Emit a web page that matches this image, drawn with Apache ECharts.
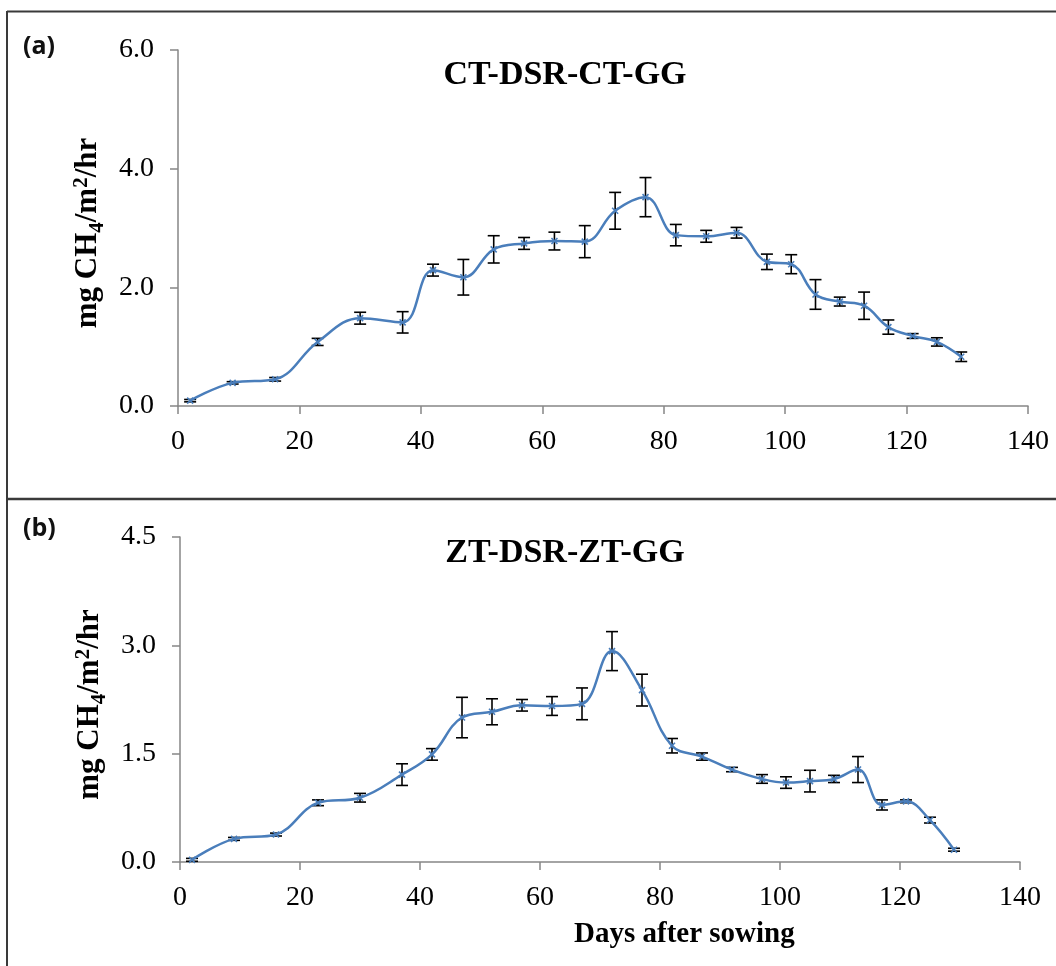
<!DOCTYPE html>
<html>
<head>
<meta charset="utf-8">
<script src="https://cdn.jsdelivr.net/npm/echarts@6/dist/echarts.min.js"></script>
<style>
html,body{margin:0;padding:0;background:#fff;}
#chart{width:1056px;height:966px;}
</style>
</head>
<body>
<div id="chart"></div>
<script>
// ---- data ----
const days = [2, 9, 16, 23, 30, 37, 42, 47, 52, 57, 62, 67, 72, 77, 82, 87, 92, 97, 101, 105, 109, 113, 117, 121, 125, 129];

const ctMean = [0.09, 0.39, 0.45, 1.08, 1.48, 1.41, 2.29, 2.17, 2.64, 2.74, 2.78, 2.77, 3.29, 3.52, 2.88, 2.86, 2.92, 2.43, 2.39, 1.88, 1.76, 1.69, 1.33, 1.18, 1.08, 0.83];
const ctErr  = [0.02, 0.02, 0.03, 0.06, 0.10, 0.18, 0.10, 0.30, 0.23, 0.10, 0.15, 0.27, 0.31, 0.33, 0.18, 0.10, 0.09, 0.13, 0.16, 0.25, 0.075, 0.23, 0.12, 0.04, 0.07, 0.08];

const ztMean = [0.03, 0.32, 0.38, 0.82, 0.89, 1.21, 1.49, 2.00, 2.08, 2.17, 2.16, 2.19, 2.92, 2.38, 1.61, 1.46, 1.28, 1.15, 1.10, 1.12, 1.15, 1.28, 0.79, 0.84, 0.58, 0.17];
const ztErr  = [0.02, 0.02, 0.02, 0.04, 0.06, 0.15, 0.08, 0.28, 0.18, 0.08, 0.13, 0.22, 0.27, 0.22, 0.10, 0.05, 0.03, 0.06, 0.08, 0.15, 0.05, 0.18, 0.07, 0.02, 0.04, 0.02];

const titleA = 'CT-DSR-CT-GG';
const titleB = 'ZT-DSR-ZT-GG';
const panelA = '(a)';
const panelB = '(b)';
const xName = 'Days after sowing';
// ---- end data ----

const BLUE = '#4A7EBB';
const AXIS = '#868686';
const SERIF = '"Liberation Serif","Times New Roman",serif';

const lineData = (m) => days.map((d, i) => [d, m[i]]);
const errData = (m, e) => days.map((d, i) => [d, m[i], e[i]]);

function errRender(params, api) {
  const x = api.value(0), m = api.value(1), e = api.value(2);
  const t = api.coord([x, m + e]);
  const b = api.coord([x, m - e]);
  const c = api.coord([x, m]);
  const cap = 6, s = 3;
  const ebStyle = { stroke: '#000', lineWidth: 1.6 };
  const mkStyle = { stroke: BLUE, lineWidth: 1.6 };
  return {
    type: 'group',
    children: [
      { type: 'line', shape: { x1: t[0], y1: t[1], x2: b[0], y2: b[1] }, style: ebStyle },
      { type: 'line', shape: { x1: t[0] - cap, y1: t[1], x2: t[0] + cap, y2: t[1] }, style: ebStyle },
      { type: 'line', shape: { x1: b[0] - cap, y1: b[1], x2: b[0] + cap, y2: b[1] }, style: ebStyle },
      { type: 'line', shape: { x1: c[0] - s, y1: c[1] - s, x2: c[0] + s, y2: c[1] + s }, style: mkStyle },
      { type: 'line', shape: { x1: c[0] - s, y1: c[1] + s, x2: c[0] + s, y2: c[1] - s }, style: mkStyle }
    ]
  };
}

const yNameRich = {
  b: { fontFamily: SERIF, fontWeight: 'bold', fontSize: 31, color: '#000' },
  sub: { fontFamily: SERIF, fontWeight: 'bold', fontSize: 21, color: '#000', verticalAlign: 'bottom', padding: [20, 0, 0, 0] },
  sup: { fontFamily: SERIF, fontWeight: 'bold', fontSize: 21, color: '#000', verticalAlign: 'middle', padding: [0, 0, 12, 0] }
};
const yName = '{b|mg CH}{sub|4}{b|/m}{sup|2}{b|/hr}';

function xAxisCfg(gi) {
  return {
    type: 'value', gridIndex: gi, min: 0, max: 140, interval: 20,
    axisLine: { show: true, onZero: false, lineStyle: { color: AXIS, width: 1.5 } },
    axisTick: { show: true, inside: false, length: 8, lineStyle: { color: AXIS, width: 1.5 } },
    axisLabel: { color: '#000', fontFamily: SERIF, fontSize: 28, margin: 22 },
    splitLine: { show: false }
  };
}
function yAxisCfg(gi, max, interval, gap) {
  return {
    type: 'value', gridIndex: gi, min: 0, max: max, interval: interval,
    axisLine: { show: true, lineStyle: { color: AXIS, width: 1.5 } },
    axisTick: { show: true, length: 8, lineStyle: { color: AXIS, width: 1.5 } },
    axisLabel: { color: '#000', fontFamily: SERIF, fontSize: 28, margin: 24, formatter: (v) => v.toFixed(1) },
    splitLine: { show: false },
    name: yName, nameLocation: 'middle', nameRotate: 90, nameGap: gap,
    nameTextStyle: { rich: yNameRich, padding: [0, 10, 0, 0] }
  };
}

const chart = echarts.init(document.getElementById('chart'), null, { renderer: 'canvas' });
chart.setOption({
  backgroundColor: '#fff',
  animation: false,
  title: [
    { text: titleA, left: 560, top: 53, textAlign: 'center',
      textStyle: { fontFamily: SERIF, fontWeight: 'bold', fontSize: 34, color: '#000' } },
    { text: titleB, left: 560, top: 531, textAlign: 'center',
      textStyle: { fontFamily: SERIF, fontWeight: 'bold', fontSize: 34, color: '#000' } }
  ],
  grid: [
    { left: 178, right: 28, top: 50, height: 356 },
    { left: 180, right: 36, top: 537, height: 325 }
  ],
  xAxis: [xAxisCfg(0), xAxisCfg(1)],
  yAxis: [yAxisCfg(0, 6, 2, 65), yAxisCfg(1, 4.5, 1.5, 67)],
  series: [
    { type: 'line', xAxisIndex: 0, yAxisIndex: 0, data: lineData(ctMean), smooth: 0.4,
      showSymbol: false, lineStyle: { color: BLUE, width: 2.5 } },
    { type: 'custom', xAxisIndex: 0, yAxisIndex: 0, data: errData(ctMean, ctErr), renderItem: errRender, z: 3 },
    { type: 'line', xAxisIndex: 1, yAxisIndex: 1, data: lineData(ztMean), smooth: 0.4,
      showSymbol: false, lineStyle: { color: BLUE, width: 2.5 } },
    { type: 'custom', xAxisIndex: 1, yAxisIndex: 1, data: errData(ztMean, ztErr), renderItem: errRender, z: 3 }
  ],
  graphic: [
    { type: 'line', shape: { x1: 7, y1: 11.5, x2: 1056, y2: 11.5 }, style: { stroke: '#3a3a3a', lineWidth: 2 } },
    { type: 'line', shape: { x1: 7, y1: 11, x2: 7, y2: 966 }, style: { stroke: '#3a3a3a', lineWidth: 2 } },
    { type: 'line', shape: { x1: 7, y1: 499, x2: 1056, y2: 499 }, style: { stroke: '#3a3a3a', lineWidth: 2.5 } },
    { type: 'text', left: 23, top: 34, style: { text: panelA, font: 'bold 25px "Open Sans","Liberation Sans",sans-serif', fill: '#111' } },
    { type: 'text', left: 23, top: 516, style: { text: panelB, font: 'bold 25px "Open Sans","Liberation Sans",sans-serif', fill: '#111' } },
    { type: 'text', left: 574, top: 920, style: { text: xName, font: 'bold 29px "Liberation Serif","Times New Roman",serif', fill: '#000' } }
  ]
});
</script>
</body>
</html>
